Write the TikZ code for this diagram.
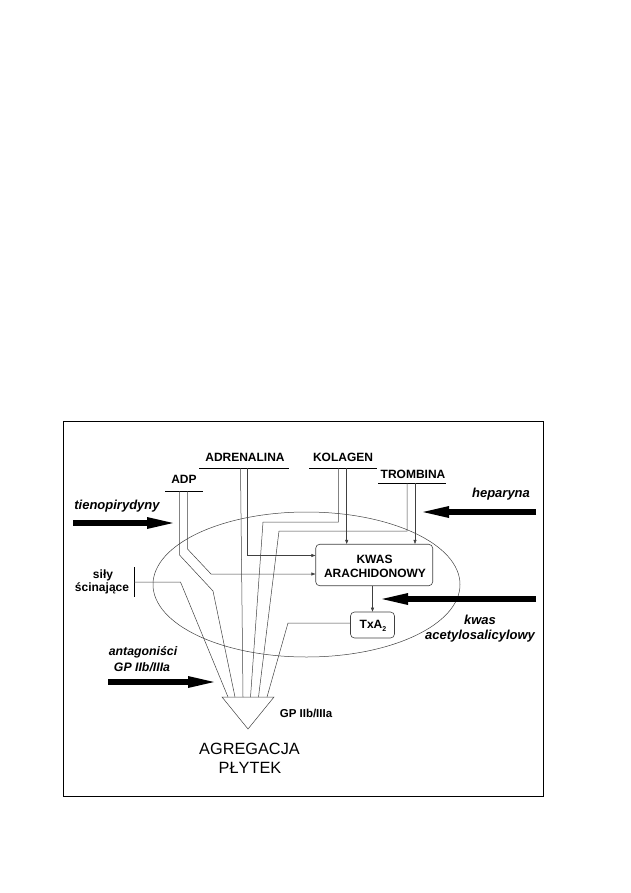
\documentclass[tikz,border=0pt]{standalone}
\usepackage{fontspec}
\setmainfont{Liberation Sans}
\usetikzlibrary{arrows.meta}
\begin{document}
\begin{tikzpicture}[x=1pt,y=-1pt,
  lbl/.style={font=\bfseries\fontsize{12}{14}\selectfont, inner sep=0pt, align=center},
  drug/.style={font=\bfseries\itshape\fontsize{13}{15}\selectfont, inner sep=0pt},
  big/.style={font=\fontsize{16.3}{19}\selectfont, inner sep=0pt},
  wire/.style={draw=black!75, line width=0.5pt},
  warr/.style={wire, -{Triangle[length=4pt,width=3pt]}},
  bar/.style={draw=black, line width=0.6pt},
  bigarr/.style={line width=5.5pt, -{Triangle[length=26pt,width=12pt,line width=0pt]}},
  box/.style={draw=black!75, line width=0.6pt, rounded corners=4pt, inner sep=0pt}]
\useasboundingbox (0,0) rectangle (630,893);
\draw[line width=0.8pt] (63,421) rectangle (543,796);

% ellipse
\draw[wire] (306.5,584.5) ellipse [x radius=153.5pt, y radius=72.5pt];

% sources
\node[lbl] (adr) at (245,457) {ADRENALINA};
\node[lbl] (kol) at (343,457) {KOLAGEN};
\node[lbl] (tro) at (413,474) {TROMBINA};
\node[lbl] (adp) at (184,479) {ADP};
\draw[bar] (199,468) -- (289,468);
\draw[bar] (309,468) -- (377,468);
\draw[bar] (378,483) -- (446,483);
\draw[bar] (165,491) -- (203,491);

\coordinate (adr1) at (240.5,468);
\coordinate (adr2) at (247.7,468);
\coordinate (kol1) at (338.3,468);
\coordinate (kol2) at (346.7,468);
\coordinate (tro1) at (407,483);
\coordinate (tro2) at (415,483);
\coordinate (adp1) at (179.5,491);
\coordinate (adp2) at (187.5,491);

% boxes
\node[box, minimum width=117pt, minimum height=41.5pt] (kwas) at (374.2,565) {};
\node[lbl] at (374.5,559) {KWAS};
\node[lbl] at (375,573) {ARACHIDONOWY};
\node[box, minimum width=44pt, minimum height=26pt] (txa) at (372.5,625) {};
\node[lbl] at (373,626) {TxA\raisebox{-0.5ex}{\fontsize{7}{8}\selectfont 2}};

% triangle
\coordinate (tl) at (222,697);
\coordinate (tr) at (274,697);
\coordinate (tb) at (248,729);
\draw[wire] (tl) -- (tr) -- (tb) -- cycle;
\coordinate (g1) at (228,697);
\coordinate (g2) at (235,697);
\coordinate (g3) at (243,697);
\coordinate (g4) at (250.5,697);
\coordinate (g5) at (258.5,697);
\coordinate (g6) at (267,697);

% sily scinajace
\node[lbl] (sily) at (103,575) {siły};
\node[lbl] (scin) at (102,588) {ścinające};
\coordinate (sbt) at (134,567);
\coordinate (sbb) at (134,597);
\coordinate (sbm) at (134,582);
\draw[bar] (sbt) -- (sbb);
\draw[wire] (sbm) -- (180.5,582) -- (g1);

% connectors
\draw[wire] (adp1) -- (179.5,555) -- (213,591) -- (g2);
\draw[warr] (adp2) -- (187.5,549) -- (211,574) -- (kwas.west |- 0,574);
\draw[wire] (adr1) -- (g3);
\draw[warr] (adr2) -- (247.7,555.5) -- (kwas.west |- 0,555.5);
\draw[wire] (kol1) -- (338.3,522) -- (263,522) -- (g4);
\draw[warr] (kol2) -- (kwas.north -| kol2);
\draw[wire] (tro1) -- (407,531) -- (279,531) -- (g5);
\draw[warr] (tro2) -- (kwas.north -| tro2);
\draw[warr] (kwas.south -| txa.north) -- (txa.north);
\draw[wire] (txa.west |- 0,623) -- (288,623) -- (g6);

% drugs
\node[drug] (tien) at (117,506) {tienopirydyny};
\coordinate (tienA) at (73,523);
\coordinate (tienB) at (173,523);
\draw[bigarr] (tienA) -- (tienB);

\node[drug] (hep) at (501,494.5) {heparyna};
\coordinate (hepA) at (536,512);
\coordinate (hepB) at (423,512);
\draw[bigarr] (hepA) -- (hepB);

\node[drug] (kw) at (480,619.5) {kwas};
\node[drug] (acet) at (480,636) {acetylosalicylowy};
\coordinate (asaA) at (536,599);
\coordinate (asaB) at (382,599);
\draw[bigarr] (asaA) -- (asaB);

\node[drug, font=\bfseries\itshape\fontsize{12.3}{14}\selectfont] (ant) at (143,652.5) {antagoniści};
\node[drug, font=\bfseries\itshape\fontsize{12.3}{14}\selectfont] (antgp) at (142,667.5) {GP IIb/IIIa};
\coordinate (antA) at (108,682);
\coordinate (antB) at (214,682);
\draw[bigarr] (antA) -- (antB);

% outputs
\node[lbl, font=\bfseries\fontsize{11.5}{13}\selectfont] (gp) at (306,713) {GP IIb/IIIa};
\node[big] (agr) at (249.5,749) {AGREGACJA};
\node[big] (ply) at (250,768) {PŁYTEK};
\end{tikzpicture}
\end{document}
